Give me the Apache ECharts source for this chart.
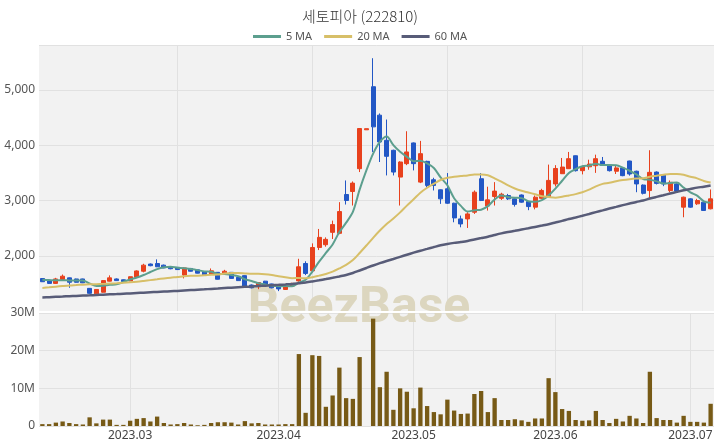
<!DOCTYPE html>
<html>
<head>
<meta charset="utf-8">
<script src="https://cdn.jsdelivr.net/npm/echarts@6/dist/echarts.min.js"></script>
<style>
  html, body { margin: 0; padding: 0; background: #fff; }
  #chart { width: 720px; height: 448px; }
</style>
</head>
<body>
<div id="chart"></div>
<script>
// ---- data ----
const dates = [
  '2023-02-10','2023-02-13','2023-02-14','2023-02-15','2023-02-16','2023-02-17','2023-02-20','2023-02-21','2023-02-22','2023-02-23','2023-02-24','2023-02-27','2023-02-28',
  '2023-03-02','2023-03-03','2023-03-06','2023-03-07','2023-03-08','2023-03-09','2023-03-10','2023-03-13','2023-03-14','2023-03-15','2023-03-16','2023-03-17','2023-03-20','2023-03-21','2023-03-22','2023-03-23','2023-03-24','2023-03-27','2023-03-28','2023-03-29','2023-03-30','2023-03-31',
  '2023-04-03','2023-04-04','2023-04-05','2023-04-06','2023-04-07','2023-04-10','2023-04-11','2023-04-12','2023-04-13','2023-04-14','2023-04-17','2023-04-18','2023-04-19','2023-04-20','2023-04-21','2023-04-24','2023-04-25','2023-04-26','2023-04-27','2023-04-28',
  '2023-05-02','2023-05-03','2023-05-04','2023-05-08','2023-05-09','2023-05-10','2023-05-11','2023-05-12','2023-05-15','2023-05-16','2023-05-17','2023-05-18','2023-05-19','2023-05-22','2023-05-23','2023-05-24','2023-05-25','2023-05-26','2023-05-29','2023-05-30','2023-05-31',
  '2023-06-01','2023-06-02','2023-06-05','2023-06-07','2023-06-08','2023-06-09','2023-06-12','2023-06-13','2023-06-14','2023-06-15','2023-06-16','2023-06-19','2023-06-20','2023-06-21','2023-06-22','2023-06-23','2023-06-26','2023-06-27','2023-06-28','2023-06-29',
  '2023-07-03','2023-07-04','2023-07-05','2023-07-06'
];

const opens  = [1588,1545,1500,1570,1600,1580,1580,1410,1310,1340, 1540,1580,1565,1545,1610,1720,1850,1860,1830,1800,
                1790,1650,1770,1745,1710,1667,1700,1685,1700,1610, 1640,1470,1440,1540,1490,1470,1390,1455,1545,1860,
                1727,2150,2200,2424,2406,3109,3163,3576,4280,5060, 4545,4090,3909,3424,3667,4042,3333,3709,3376,3194,
                3212,2951,2667,2667,2788,3394,2900,3073,3040,3090, 3030,3100,2980,2880,3040,3070,3300,3485,3576,3810,
                3540,3610,3630,3710,3630,3530,3590,3715,3530,3280, 3180,3515,3470,3180,3300,2880,3030,2940,2970,2850];
const closes = [1530,1500,1580,1630,1520,1520,1510,1320,1390,1550, 1600,1550,1535,1620,1725,1830,1820,1800,1780,1765,
                1750,1780,1720,1685,1650,1727,1575,1720,1590,1550, 1440,1420,1515,1480,1420,1400,1440,1500,1800,1680,
                2150,2333,2297,2564,2800,3000,3315,4303,4300,4333, 4060,3800,3515,3697,3879,3667,3848,3273,3273,3030,
                2951,2685,2576,2757,3151,3000,3012,3170,3115,3030, 2930,2970,2890,3060,3182,3364,3580,3606,3757,3540,
                3610,3660,3757,3636,3540,3590,3450,3480,3300,3130, 3510,3310,3300,3330,3170,3060,2880,3000,2820,3030];
const lows   = [1525,1490,1490,1565,1420,1515,1505,1315,1305,1335, 1535,1545,1530,1540,1605,1700,1810,1795,1775,1755,
                1745,1590,1715,1680,1640,1660,1570,1680,1585,1545, 1430,1410,1395,1475,1410,1360,1385,1450,1530,1650,
                1700,2103,2164,2303,2390,2927,2909,3515,4280,3879, 3697,3454,3454,2909,3640,3545,3315,3242,3182,2939,
                2939,2606,2515,2503,2757,2990,2818,2909,3010,3010, 2890,2960,2825,2840,3030,3048,3254,3480,3570,3525,
                3473,3557,3500,3630,3525,3480,3440,3450,3150,3110, 3040,3290,3260,3150,3150,2697,2870,2920,2810,2840];
const highs  = [1595,1550,1600,1660,1605,1585,1585,1415,1395,1560, 1645,1590,1570,1625,1735,1855,1860,1935,1840,1810,
                1795,1790,1780,1750,1715,1770,1705,1745,1705,1615, 1645,1480,1520,1545,1495,1475,1470,1510,1945,1900,
                2224,2485,2333,2636,2970,3363,3345,4303,4300,5576, 4576,4466,3920,3710,4254,4050,4079,3720,3412,3200,
                3497,2960,2727,2788,3182,3497,3250,3333,3140,3120, 3040,3110,2990,3090,3212,3650,3640,3770,3879,3815,
                3630,3739,3830,3788,3640,3640,3600,3720,3540,3290, 3910,3527,3480,3363,3310,3070,3040,3030,2980,3200];

// volume, in millions of shares
const volumes = [0.5,0.5,0.9,1.2,0.8,0.5,0.4,2.3,0.7,1.7, 1.7,0.3,0.3,1.4,1.9,2.1,1.2,2.5,0.8,0.4,
                 0.5,0.8,0.4,0.2,0.3,0.8,1.0,1.0,0.9,0.4, 1.3,0.7,0.8,0.4,0.4,0.4,0.5,0.5,19.1,3.5,
                 18.8,18.6,5.1,8.1,15.5,7.4,7.2,18.3,0.0,28.5, 10.3,14.4,4.3,10.0,9.1,4.7,10.2,5.3,3.7,3.1,
                 7.0,4.1,3.2,3.3,8.5,9.3,3.7,7.4,1.6,1.6, 1.8,1.5,1.1,2.0,2.0,12.7,9.0,4.5,4.0,1.6,
                 1.4,1.5,4.0,1.6,0.8,1.9,1.2,2.7,2.0,0.8, 14.4,2.1,1.6,1.6,0.9,2.7,1.1,1.1,0.9,5.9];

const ma5  = [1565,1560,1555,1558,1552,1550,1552,1500,1452,1458, 1474,1482,1525,1571,1606,1652,1706,1759,1791,1799,
              1783,1775,1759,1740,1717,1712,1671,1671,1652,1632, 1575,1544,1503,1481,1455,1447,1451,1448,1512,1564,
              1714,1893,2052,2205,2429,2599,2795,3196,3544,3850, 4062,4159,4002,3881,3790,3712,3721,3673,3588,3418,
              3275,3042,2903,2800,2824,2834,2899,3018,3090,3065, 3051,3043,2987,2976,3006,3093,3215,3358,3498,3569,
              3619,3635,3665,3641,3641,3637,3595,3539,3472,3390, 3374,3346,3310,3316,3324,3234,3148,3088,2986,2958];
const ma20 = [1418,1428,1440,1452,1463,1470,1477,1482,1486,1491, 1497,1503,1510,1519,1530,1544,1559,1574,1590,1604,
              1615,1629,1636,1639,1645,1655,1659,1679,1689,1689, 1681,1674,1673,1666,1651,1629,1610,1595,1596,1592,
              1612,1640,1669,1713,1770,1834,1921,2050,2185,2325, 2456,2575,2675,2785,2908,3022,3142,3231,3304,3372,
              3412,3430,3443,3453,3471,3471,3456,3399,3340,3274, 3218,3176,3145,3113,3079,3063,3050,3067,3091,3116,
              3149,3198,3257,3301,3320,3350,3372,3387,3397,3402, 3431,3448,3468,3482,3481,3466,3431,3401,3354,3328];
const ma60 = [1246,1251,1257,1262,1268,1273,1279,1283,1289,1295, 1301,1306,1312,1318,1325,1332,1339,1345,1352,1358,
              1364,1371,1378,1385,1392,1400,1407,1415,1423,1430, 1437,1444,1452,1459,1466,1473,1481,1490,1503,1516,
              1535,1556,1578,1601,1626,1652,1688,1733,1779,1824, 1866,1905,1942,1980,2018,2056,2092,2124,2157,2189,
              2213,2233,2249,2268,2295,2320,2345,2376,2405,2429, 2451,2475,2498,2522,2546,2571,2601,2631,2664,2693,
              2724,2756,2790,2822,2854,2885,2916,2945,2974,3000, 3035,3066,3096,3127,3156,3184,3208,3233,3250,3272];

const titleText = '세토피아 (222810)';
const legendNames = ['5 MA', '20 MA', '60 MA'];

// ---- build ----
const candles = dates.map((d, i) => [opens[i], closes[i], lows[i], highs[i]]);
const isMonthStart = (i) => i > 0 && dates[i].slice(0, 7) !== dates[i - 1].slice(0, 7);
const font = "'Noto Sans', 'Noto Sans CJK KR', sans-serif";
const UP = '#e8411d', DOWN = '#2257c5';
const gridLine = '#e1e1e1';

const chart = echarts.init(document.getElementById('chart'), null, { renderer: 'canvas' });
chart.setOption({
  animation: false,
  backgroundColor: '#ffffff',
  title: {
    text: titleText, left: 'center', top: 4,
    textStyle: { fontFamily: "'Noto Sans CJK KR', sans-serif", fontSize: 15, fontWeight: 300, color: '#333' }
  },
  legend: {
    data: legendNames, top: 26, left: 'center',
    icon: 'rect', itemWidth: 28, itemHeight: 3, itemGap: 12,
    textStyle: { fontFamily: font, fontSize: 11, color: '#555' }
  },
  graphic: [
    { type: 'text', x: 359, y: 309, z: 1, silent: true,
      style: { text: 'BeezBase', font: "bold 50px Roboto, sans-serif", fill: '#dcd6bf', align: 'center', verticalAlign: 'middle' } },
    { type: 'rect', z: 1, silent: true, shape: { x: 39, y: 311, width: 675, height: 2 }, style: { fill: '#ffffff' } }
  ],
  grid: [
    { left: 39, right: 6, top: 45, height: 266, show: true, backgroundColor: '#f2f2f2', borderWidth: 0 },
    { left: 39, right: 6, top: 313, bottom: 22, show: true, backgroundColor: '#f2f2f2', borderWidth: 0 }
  ],
  xAxis: [
    { type: 'category', gridIndex: 0, data: dates, boundaryGap: true,
      axisLine: { show: false }, axisTick: { show: false }, axisLabel: { show: false },
      splitLine: { show: true, alignWithLabel: true, interval: (i) => i > 0 && i % 20 === 0, lineStyle: { color: gridLine, width: 1 } } },
    { type: 'category', gridIndex: 1, data: dates, boundaryGap: true,
      axisLine: { show: false }, axisTick: { show: false },
      axisLabel: { interval: (i) => isMonthStart(i), formatter: (v) => v.slice(0, 7).replace('-', '.'),
                   fontFamily: font, fontSize: 12, color: '#444', margin: 4 },
      splitLine: { show: true, alignWithLabel: true, interval: (i) => isMonthStart(i), lineStyle: { color: gridLine, width: 1 } } }
  ],
  yAxis: [
    { type: 'value', gridIndex: 0, min: 1000, max: 5815, interval: 1000, scale: true,
      axisLine: { show: false }, axisTick: { show: false },
      axisLabel: { showMinLabel: false, showMaxLabel: false, margin: 4, fontFamily: font, fontSize: 12, color: '#555',
                   formatter: (v) => v.toLocaleString('en-US') },
      splitLine: { lineStyle: { color: gridLine, width: 1 } } },
    { type: 'value', gridIndex: 1, min: 0, max: 30, interval: 10,
      axisLine: { show: false }, axisTick: { show: false },
      axisLabel: { margin: 4, fontFamily: font, fontSize: 12, color: '#555', formatter: (v) => v === 0 ? '0' : v + 'M' },
      splitLine: { lineStyle: { color: gridLine, width: 1 } } }
  ],
  series: [
    { type: 'candlestick', name: 'price', xAxisIndex: 0, yAxisIndex: 0, data: candles, barWidth: '66%',
      itemStyle: { color: UP, color0: DOWN, borderColor: UP, borderColor0: DOWN, borderWidth: 1 } },
    { type: 'line', name: legendNames[0], xAxisIndex: 0, yAxisIndex: 0, data: ma5, showSymbol: false, smooth: 0.3,
      lineStyle: { color: '#5c9f8e', width: 2 }, itemStyle: { color: '#5c9f8e' } },
    { type: 'line', name: legendNames[1], xAxisIndex: 0, yAxisIndex: 0, data: ma20, showSymbol: false, smooth: 0.3,
      lineStyle: { color: '#d7bf68', width: 2 }, itemStyle: { color: '#d7bf68' } },
    { type: 'line', name: legendNames[2], xAxisIndex: 0, yAxisIndex: 0, data: ma60, showSymbol: false, smooth: 0.3,
      lineStyle: { color: '#585c78', width: 2.5 }, itemStyle: { color: '#585c78' } },
    { type: 'bar', name: 'volume', xAxisIndex: 1, yAxisIndex: 1, data: volumes, barWidth: '64%',
      itemStyle: { color: '#775a16' } }
  ]
});
</script>
</body>
</html>
